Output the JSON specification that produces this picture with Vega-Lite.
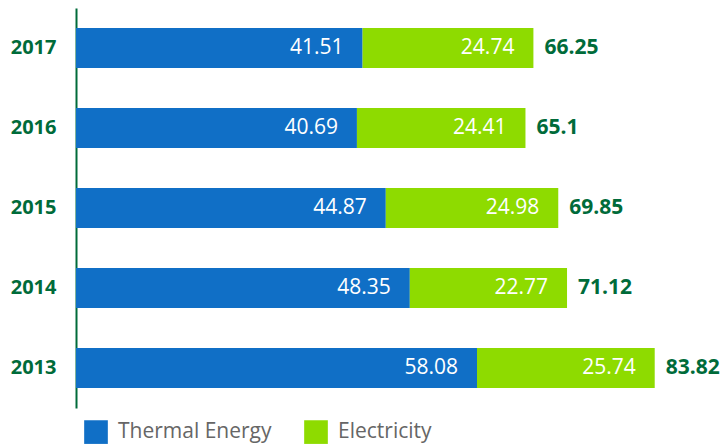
{
  "$schema": "https://vega.github.io/schema/vega-lite/v6.json",
  "autosize": "none",
  "width": 649,
  "height": 400,
  "padding": {"left": 76, "top": 8, "right": 0, "bottom": 40},
  "background": "white",
  "config": {
    "view": {"stroke": null},
    "font": "Open Sans"
  },
  "data": {
    "values": [
      {"year": "2017", "type": "Thermal Energy", "value": 41.51},
      {"year": "2017", "type": "Electricity", "value": 24.74},
      {"year": "2016", "type": "Thermal Energy", "value": 40.69},
      {"year": "2016", "type": "Electricity", "value": 24.41},
      {"year": "2015", "type": "Thermal Energy", "value": 44.87},
      {"year": "2015", "type": "Electricity", "value": 24.98},
      {"year": "2014", "type": "Thermal Energy", "value": 48.35},
      {"year": "2014", "type": "Electricity", "value": 22.77},
      {"year": "2013", "type": "Thermal Energy", "value": 58.08},
      {"year": "2013", "type": "Electricity", "value": 25.74}
    ]
  },
  "transform": [
    {
      "stack": "value",
      "groupby": ["year"],
      "sort": [{"field": "type", "order": "descending"}],
      "as": ["v0", "v1"]
    }
  ],
  "encoding": {
    "y": {
      "field": "year",
      "type": "nominal",
      "sort": "descending",
      "scale": {"paddingInner": 0.5, "paddingOuter": 0.25},
      "axis": {
        "title": null,
        "ticks": false,
        "domainColor": "#006B3A",
        "domainWidth": 2,
        "labelFontSize": 20,
        "labelFontWeight": "bold",
        "labelColor": "#006B3A",
        "labelPadding": 20
      }
    }
  },
  "layer": [
    {
      "mark": {"type": "bar"},
      "encoding": {
        "x": {
          "field": "v0",
          "type": "quantitative",
          "scale": {"domain": [0, 94], "nice": false},
          "axis": null
        },
        "x2": {"field": "v1"},
        "color": {
          "field": "type",
          "type": "nominal",
          "scale": {
            "domain": ["Thermal Energy", "Electricity"],
            "range": ["#106FC6", "#8EDB00"]
          },
          "legend": {
            "title": null,
            "orient": "none",
            "direction": "horizontal",
            "legendX": 8,
            "legendY": 412,
            "symbolType": "square",
            "symbolSize": 560,
            "symbolStrokeWidth": 0,
            "symbolOpacity": 1,
            "labelFontSize": 21,
            "labelColor": "#666666",
            "labelOffset": 10,
            "columnPadding": 32
          }
        }
      }
    },
    {
      "mark": {
        "type": "text",
        "align": "right",
        "baseline": "middle",
        "dx": -19,
        "fontSize": 21,
        "color": "white"
      },
      "encoding": {
        "x": {"field": "v1", "type": "quantitative"},
        "text": {"field": "value", "type": "quantitative", "format": ".2f"}
      }
    },
    {
      "transform": [
        {"aggregate": [{"op": "sum", "field": "value", "as": "total"}], "groupby": ["year"]}
      ],
      "mark": {
        "type": "text",
        "align": "left",
        "baseline": "middle",
        "dx": 11,
        "fontSize": 21,
        "fontWeight": "bold",
        "color": "#006B3A"
      },
      "encoding": {
        "x": {"field": "total", "type": "quantitative"},
        "text": {"field": "total", "type": "quantitative", "format": ".2~f"}
      }
    }
  ]
}
